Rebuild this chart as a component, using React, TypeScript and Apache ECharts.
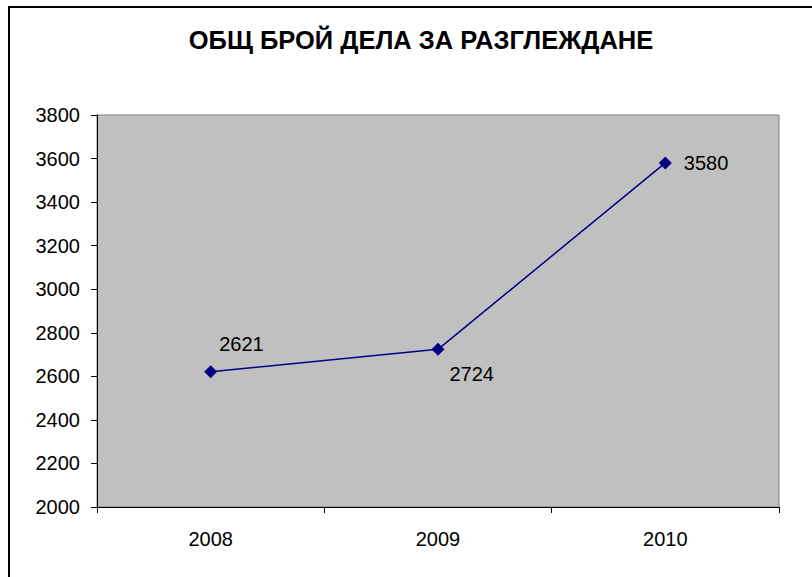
import React, { useEffect, useRef } from "react";
import * as echarts from "echarts";

const title = "ОБЩ БРОЙ ДЕЛА ЗА РАЗГЛЕЖДАНЕ";
const years = ["2008", "2009", "2010"];
const cases = [2621, 2724, 3580];
const labelOffsets: [number, number][] = [[-6, -28], [-3, 25], [4, 0]];

export default function App() {
  const ref = useRef<HTMLDivElement>(null);
  useEffect(() => {
    if (!ref.current) return;
    const chart = echarts.init(ref.current, null, { renderer: "svg" });
    const font = "Liberation Sans, Arial, sans-serif";
    chart.setOption({
      animation: false,
      backgroundColor: "#ffffff",
      textStyle: { fontFamily: font },
      title: {
        text: title,
        left: 416,
        top: 22,
        textAlign: "center",
        textStyle: { fontSize: 25.5, fontWeight: "bold", color: "#000", fontFamily: font },
      },
      graphic: [
        {
          type: "rect",
          shape: { x: 9, y: 7, width: 830, height: 600 },
          style: { fill: "none", stroke: "#000", lineWidth: 2 },
          silent: true,
          z: 100,
        },
      ],
      grid: {
        left: 97,
        top: 115,
        right: 33,
        bottom: 70,
        show: true,
        backgroundColor: "#C0C0C0",
        borderColor: "#808080",
        borderWidth: 1,
      },
      xAxis: {
        type: "category",
        data: years,
        boundaryGap: true,
        axisLine: { lineStyle: { color: "#000", width: 1 } },
        axisTick: { show: true, length: 6, interval: 0, lineStyle: { color: "#000" } },
        axisLabel: { fontSize: 20, color: "#000", margin: 22 },
        splitLine: { show: false },
      },
      yAxis: {
        type: "value",
        min: 2000,
        max: 3800,
        interval: 200,
        axisLine: { show: true, lineStyle: { color: "#000", width: 1 } },
        axisTick: { show: true, length: 6, lineStyle: { color: "#000" } },
        axisLabel: { fontSize: 20, color: "#000", margin: 17, formatter: (v: number) => String(v) },
        splitLine: { show: false },
      },
      series: [
        {
          type: "line",
          data: cases.map((v, i) => ({
            value: v,
            label: { offset: labelOffsets[i] },
          })),
          symbol: "diamond",
          symbolSize: 13,
          itemStyle: { color: "#000080" },
          lineStyle: { color: "#000080", width: 1.5 },
          label: {
            show: true,
            position: "right",
            distance: 8,
            fontSize: 20,
            color: "#000",
          },
        },
      ],
    });
    return () => chart.dispose();
  }, []);
  return (
    <div
      ref={ref}
      style={{ position: "absolute", left: 0, top: 0, width: 812, height: 577 }}
    />
  );
}
